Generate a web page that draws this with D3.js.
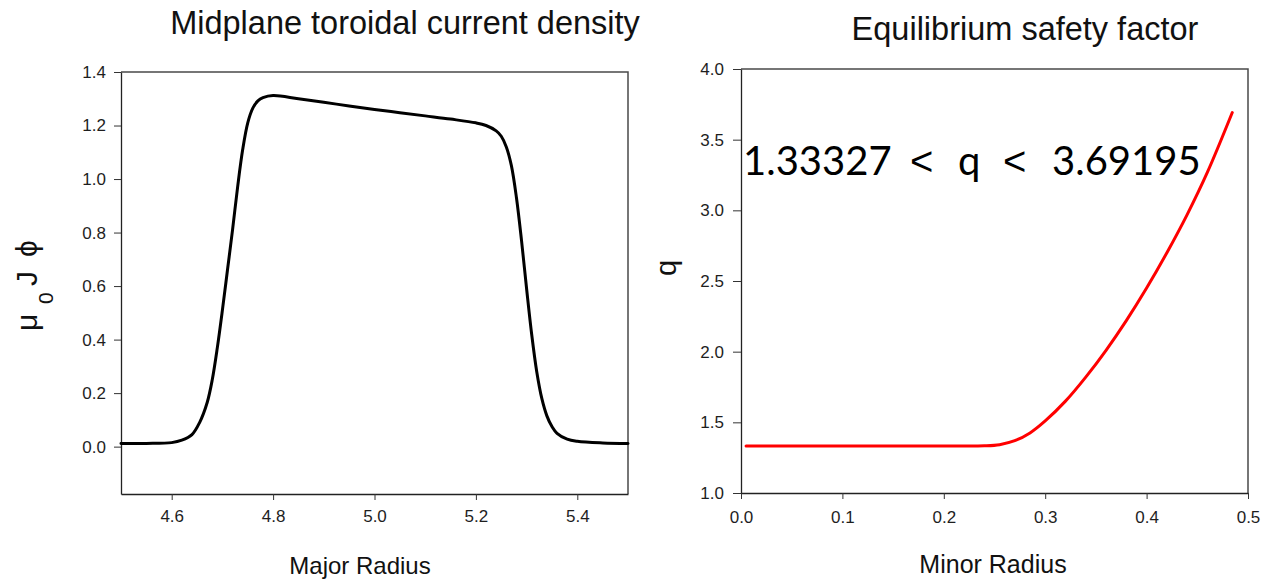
<!DOCTYPE html>
<html>
<head>
<meta charset="utf-8">
<script src="https://cdn.jsdelivr.net/npm/d3@7"></script>
<style>
  html, body { margin: 0; padding: 0; background: #fff; }
  svg { display: block; font-family: "Liberation Sans", Arial, sans-serif; }
  .tick text { fill: #1e1e1e; }
</style>
</head>
<body>
<svg id="chart" width="1264" height="581"></svg>
<script>
// Midplane toroidal current density vs major radius
const majorRadius = [4.50, 4.55, 4.60, 4.62, 4.64, 4.655, 4.67, 4.68, 4.69, 4.70, 4.71, 4.72, 4.73, 4.74, 4.75, 4.76, 4.77, 4.78, 4.80, 4.85, 4.90, 4.95, 5.00, 5.05, 5.10, 5.15, 5.20, 5.22, 5.24, 5.25, 5.26, 5.27, 5.28, 5.29, 5.30, 5.31, 5.32, 5.33, 5.34, 5.35, 5.36, 5.38, 5.40, 5.45, 5.50];
const currentDensity = [0.012, 0.012, 0.015, 0.024, 0.045, 0.09, 0.165, 0.25, 0.37, 0.51, 0.66, 0.81, 0.97, 1.11, 1.21, 1.265, 1.292, 1.304, 1.312, 1.30, 1.287, 1.273, 1.260, 1.248, 1.236, 1.224, 1.21, 1.20, 1.18, 1.16, 1.12, 1.05, 0.93, 0.77, 0.59, 0.42, 0.28, 0.18, 0.115, 0.075, 0.05, 0.028, 0.02, 0.014, 0.012];

// Equilibrium safety factor vs minor radius
const minorRadius = [0.005, 0.05, 0.10, 0.15, 0.20, 0.24, 0.255, 0.27, 0.285, 0.30, 0.32, 0.34, 0.36, 0.38, 0.40, 0.42, 0.44, 0.46, 0.4845];
const safetyFactor = [1.33327, 1.33327, 1.33327, 1.33327, 1.33327, 1.334, 1.342, 1.37, 1.425, 1.51, 1.65, 1.82, 2.01, 2.22, 2.45, 2.70, 2.97, 3.27, 3.69195];

// Tick values
const leftXTicks = [4.6, 4.8, 5.0, 5.2, 5.4];
const leftYTicks = [0.0, 0.2, 0.4, 0.6, 0.8, 1.0, 1.2, 1.4];
const rightXTicks = [0.0, 0.1, 0.2, 0.3, 0.4, 0.5];
const rightYTicks = [1.0, 1.5, 2.0, 2.5, 3.0, 3.5, 4.0];

const qMin = 1.33327, qMax = 3.69195;

const svg = d3.select("#chart");

function panel(cfg) {
  const g = svg.append("g");
  const x = d3.scaleLinear().domain(cfg.xDomain).range([cfg.left, cfg.right]);
  const y = d3.scaleLinear().domain(cfg.yDomain).range([cfg.bottom, cfg.top]);

  // frame (top and right edges)
  g.append("path")
    .attr("d", `M${cfg.left},${cfg.top}H${cfg.right}V${cfg.bottom}`)
    .attr("fill", "none").attr("stroke", "#4a4a4a").attr("stroke-width", 1.5);

  const xAxis = g.append("g")
    .attr("transform", `translate(0,${cfg.bottom})`)
    .call(d3.axisBottom(x).tickValues(cfg.xTicks).tickFormat(d3.format(".1f"))
      .tickSize(6).tickPadding(cfg.xPad).tickSizeOuter(0));
  const yAxis = g.append("g")
    .attr("transform", `translate(${cfg.left},0)`)
    .call(d3.axisLeft(y).tickValues(cfg.yTicks).tickFormat(d3.format(".1f"))
      .tickSize(cfg.yTickSize).tickPadding(cfg.yPad).tickSizeOuter(0));
  [xAxis, yAxis].forEach(a => {
    a.select(".domain").attr("stroke", "#222").attr("stroke-width", 1.3);
    a.selectAll(".tick line").attr("stroke", "#333").attr("stroke-width", 1);
    a.selectAll(".tick text").attr("font-size", 17).attr("font-family", "Liberation Sans, Arial, sans-serif");
  });

  const line = d3.line()
    .x((d, i) => x(cfg.xs[i]))
    .y(d => y(d))
    .curve(d3.curveCatmullRom.alpha(0.5));
  g.append("path")
    .datum(cfg.ys)
    .attr("d", line)
    .attr("fill", "none")
    .attr("stroke", cfg.color)
    .attr("stroke-width", 3)
    .attr("stroke-linejoin", "round")
    .attr("stroke-linecap", "round");

  return { g, x, y };
}

const left = panel({
  left: 121, right: 628, top: 72, bottom: 494,
  xDomain: [4.5, 5.5], yDomain: [-0.177, 1.4],
  xTicks: leftXTicks, yTicks: leftYTicks,
  xPad: 10, yPad: 8, yTickSize: 7,
  xs: majorRadius, ys: currentDensity, color: "#000"
});

const right = panel({
  left: 741, right: 1248, top: 69, bottom: 493,
  xDomain: [0, 0.5], yDomain: [1, 4],
  xTicks: rightXTicks, yTicks: rightYTicks,
  xPad: 12, yPad: 9, yTickSize: 8,
  xs: minorRadius, ys: safetyFactor, color: "#ff0000"
});

// Titles
svg.append("text").attr("x", 405).attr("y", 34).attr("text-anchor", "middle")
  .attr("font-size", 32.5).attr("fill", "#111").text("Midplane toroidal current density");
svg.append("text").attr("x", 1025).attr("y", 40).attr("text-anchor", "middle")
  .attr("font-size", 32.5).attr("fill", "#111").text("Equilibrium safety factor");

// Axis titles
svg.append("text").attr("x", 360).attr("y", 574).attr("text-anchor", "middle")
  .attr("font-size", 24).attr("fill", "#111").text("Major Radius");
svg.append("text").attr("x", 993).attr("y", 573).attr("text-anchor", "middle")
  .attr("font-size", 25).attr("fill", "#111").text("Minor Radius");

// μ0 Jϕ, rotated; positions along the rotated baseline
const muLabel = svg.append("text")
  .attr("transform", "rotate(-90)")
  .attr("y", 37)
  .attr("font-size", 30).attr("fill", "#111");
muLabel.append("tspan").attr("x", -331).text("μ");
muLabel.append("tspan").attr("x", -304).attr("dy", 16).attr("font-size", 21).text("0");
muLabel.append("tspan").attr("x", -286).attr("dy", -16).text("J");
muLabel.append("tspan").attr("x", -257).text("ϕ");

svg.append("text")
  .attr("transform", "translate(676,268) rotate(-90)")
  .attr("text-anchor", "middle")
  .attr("font-size", 29).attr("fill", "#111").text("q");

// Range annotation
const note = svg.append("text")
  .attr("y", 175)
  .attr("font-family", "Lato, 'Open Sans', sans-serif")
  .attr("font-size", 40).attr("fill", "#000");
note.append("tspan").attr("x", 743).text(String(qMin));
note.append("tspan").attr("x", 910).attr("font-family", "Liberation Sans, Arial, sans-serif").text("<");
note.append("tspan").attr("x", 958).text("q");
note.append("tspan").attr("x", 1003).attr("font-family", "Liberation Sans, Arial, sans-serif").text("<");
note.append("tspan").attr("x", 1052).text(String(qMax));
</script>
</body>
</html>
